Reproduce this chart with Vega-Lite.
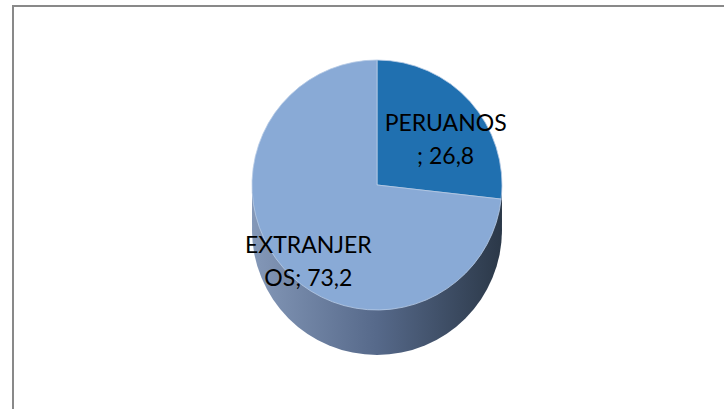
{
  "$schema": "https://vega.github.io/schema/vega-lite/v6.json",
  "autosize": {"type": "fit", "contains": "padding"},
  "width": 724,
  "height": 409,
  "padding": {"left": 13, "top": 6, "right": -3, "bottom": -3},
  "background": "#ffffff",
  "config": {"view": {"stroke": "#898989", "strokeWidth": 2}},
  "data": {
    "values": [
      {"categoria": "PERUANOS", "valor": 26.8, "orden": 1, "etiqueta": "PERUANOS\n; 26,8"},
      {"categoria": "EXTRANJEROS", "valor": 73.2, "orden": 2, "etiqueta": "EXTRANJER\nOS; 73,2"}
    ]
  },
  "layer": [
    {
      "mark": {"type": "arc", "radius": 125, "yOffset": 45, "fill": {"gradient": "linear", "x1": 0, "y1": 0, "x2": 1, "y2": 0, "stops": [{"offset": 0, "color": "#8498B8"}, {"offset": 0.5, "color": "#56698A"}, {"offset": 1, "color": "#2B3848"}]}},
      "encoding": {"theta": {"aggregate": "sum", "field": "valor", "type": "quantitative"}, "x": {"value": 364}, "y": {"value": 179}}
    },
    {
      "mark": {"type": "arc", "radius": 125, "yOffset": 36, "fill": {"gradient": "linear", "x1": 0, "y1": 0, "x2": 1, "y2": 0, "stops": [{"offset": 0, "color": "#8498B8"}, {"offset": 0.5, "color": "#56698A"}, {"offset": 1, "color": "#2B3848"}]}},
      "encoding": {"theta": {"aggregate": "sum", "field": "valor", "type": "quantitative"}, "x": {"value": 364}, "y": {"value": 179}}
    },
    {
      "mark": {"type": "arc", "radius": 125, "yOffset": 27, "fill": {"gradient": "linear", "x1": 0, "y1": 0, "x2": 1, "y2": 0, "stops": [{"offset": 0, "color": "#8498B8"}, {"offset": 0.5, "color": "#56698A"}, {"offset": 1, "color": "#2B3848"}]}},
      "encoding": {"theta": {"aggregate": "sum", "field": "valor", "type": "quantitative"}, "x": {"value": 364}, "y": {"value": 179}}
    },
    {
      "mark": {"type": "arc", "radius": 125, "yOffset": 18, "fill": {"gradient": "linear", "x1": 0, "y1": 0, "x2": 1, "y2": 0, "stops": [{"offset": 0, "color": "#8498B8"}, {"offset": 0.5, "color": "#56698A"}, {"offset": 1, "color": "#2B3848"}]}},
      "encoding": {"theta": {"aggregate": "sum", "field": "valor", "type": "quantitative"}, "x": {"value": 364}, "y": {"value": 179}}
    },
    {
      "mark": {"type": "arc", "radius": 125, "yOffset": 9, "fill": {"gradient": "linear", "x1": 0, "y1": 0, "x2": 1, "y2": 0, "stops": [{"offset": 0, "color": "#8498B8"}, {"offset": 0.5, "color": "#56698A"}, {"offset": 1, "color": "#2B3848"}]}},
      "encoding": {"theta": {"aggregate": "sum", "field": "valor", "type": "quantitative"}, "x": {"value": 364}, "y": {"value": 179}}
    },
    {
      "mark": {"type": "arc", "radius": 125, "stroke": "#B8CCE6", "strokeWidth": 0.8},
      "encoding": {
        "theta": {"field": "valor", "type": "quantitative", "stack": true},
        "order": {"field": "orden", "type": "quantitative"},
        "color": {"field": "categoria", "type": "nominal", "scale": {"domain": ["PERUANOS", "EXTRANJEROS"], "range": ["#2070B0", "#89AAD6"]}, "legend": null},
        "x": {"value": 364},
        "y": {"value": 179}
      }
    },
    {
      "mark": {"type": "text", "radius": 92, "font": "Lato", "fontSize": 23, "lineBreak": "\n", "lineHeight": 33, "align": "center", "baseline": "middle", "color": "#000000"},
      "encoding": {
        "theta": {"field": "valor", "type": "quantitative", "stack": true},
        "order": {"field": "orden", "type": "quantitative"},
        "text": {"field": "etiqueta", "type": "nominal"},
        "x": {"value": 364},
        "y": {"value": 179}
      }
    }
  ]
}
